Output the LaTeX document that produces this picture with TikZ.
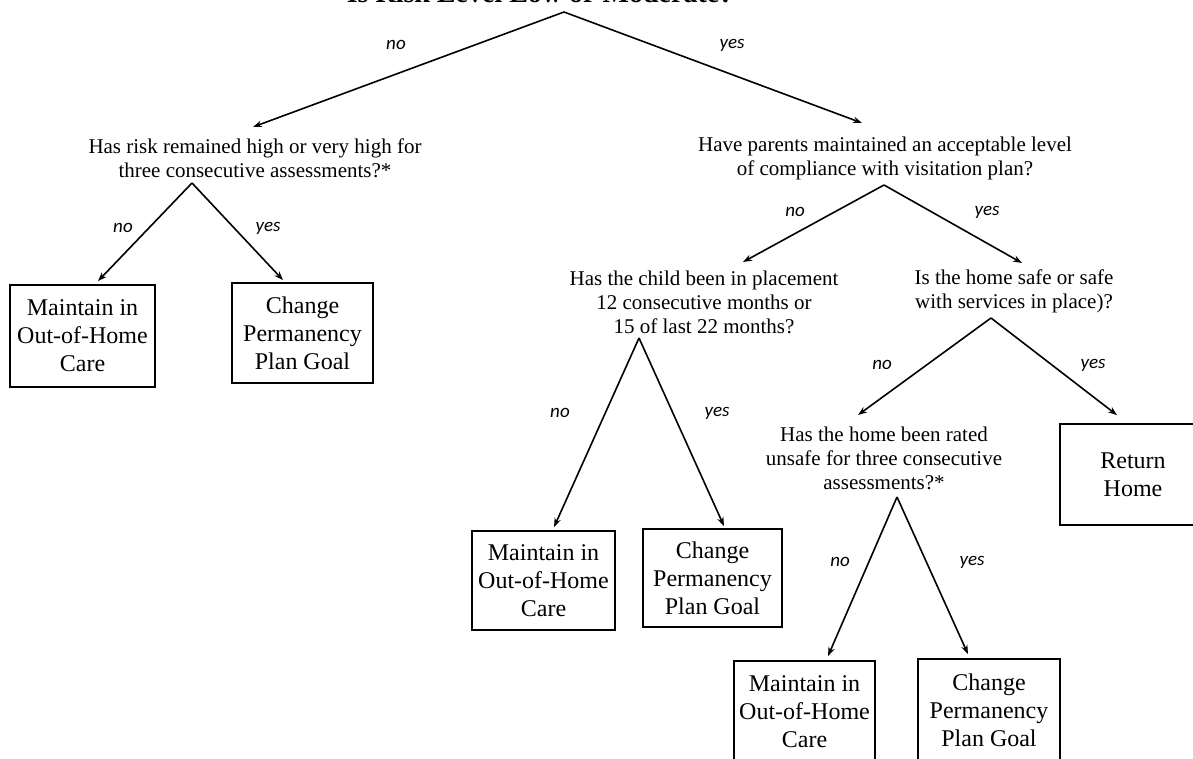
\documentclass[tikz,border=0pt]{standalone}
\usepackage{fontspec}
\setmainfont{Liberation Serif}
\newfontfamily\lblfont{Carlito}
\usetikzlibrary{arrows.meta}
\begin{document}
\begin{tikzpicture}[x=1pt,y=-1pt,
  qtext/.style={align=center,inner sep=0pt,font=\fontsize{21}{24}\selectfont},
  outbox/.style={draw,line width=1.8pt,align=center,inner sep=0pt,font=\fontsize{24}{28}\selectfont},
  lbl/.style={font=\lblfont\itshape\fontsize{19}{19}\selectfont,inner sep=0pt},
  arr/.style={line width=1.6pt,-{Stealth[length=9pt,width=6.5pt]}}]
\useasboundingbox (0,0) rectangle (1193,759);
\clip (0,0) rectangle (1193,759);

% title (cut off at top)
\node[anchor=base,inner sep=0pt,font=\bfseries\fontsize{28}{30}\selectfont] (title) at (540,3) {Is Risk Level Low or Moderate?};

% questions
\node[qtext] (q1) at (255,158) {Has risk remained high or very high for\\three consecutive assessments?*};
\node[qtext] (q2) at (885,158) {Have parents maintained an acceptable level\\of compliance with visitation plan?};
\node[qtext] (q3) at (704,302) {Has the child been in placement\\12 consecutive months or\\15 of last 22 months?};
\node[qtext] (q4) at (1014,291) {Is the home safe or safe\\with services in place)?};
\node[qtext] (q5) at (884,458) {Has the home been rated\\unsafe for three consecutive\\assessments?*};

% outcome boxes
\node[outbox,minimum width=145pt,minimum height=102pt] (m1) at (82.5,336) {Maintain in\\Out-of-Home\\Care};
\node[outbox,minimum width=141pt,minimum height=100pt] (c1) at (302.5,333) {Change\\Permanency\\Plan Goal};
\node[outbox,minimum width=143pt,minimum height=99pt] (m2) at (543.5,580.5) {Maintain in\\Out-of-Home\\Care};
\node[outbox,minimum width=139pt,minimum height=98pt] (c2) at (712.5,578) {Change\\Permanency\\Plan Goal};
\node[outbox,minimum width=146pt,minimum height=101pt] (rh) at (1133,474.5) {Return\\Home};
\node[outbox,minimum width=141pt,minimum height=102pt] (m3) at (804.5,712) {Maintain in\\Out-of-Home\\Care};
\node[outbox,minimum width=142pt,minimum height=102pt] (c3) at (989,710) {Change\\Permanency\\Plan Goal};

% branch points and tips
\coordinate (a0) at (564,12);
\coordinate (a1) at (192,183);
\coordinate (a2) at (884,185);
\coordinate (a3) at (639,338);
\coordinate (a4) at (991,318);
\coordinate (a5) at (897,497);
\coordinate (q1t) at (253,127);
\coordinate (q2t) at (862,123);
\coordinate (q3t) at (743,262);
\coordinate (q4t) at (1022,263);
\coordinate (q5t) at (858,415);

% connectors
\draw[arr] (a0) -- (q1t);
\draw[arr] (a0) -- (q2t);
\draw[arr] (a1) -- ([xshift=15.5pt,yshift=3pt]m1.north);
\draw[arr] (a1) -- ([xshift=-19.5pt,yshift=2pt]c1.north);
\draw[arr] (a2) -- (q3t);
\draw[arr] (a2) -- (q4t);
\draw[arr] (a3) -- ([xshift=10.5pt,yshift=3pt]m2.north);
\draw[arr] (a3) -- ([xshift=11.5pt,yshift=2pt]c2.north);
\draw[arr] (a4) -- (q5t);
\draw[arr] (a4) -- ([xshift=-16pt,yshift=8pt]rh.north);
\draw[arr] (a5) -- ([xshift=23.5pt,yshift=4pt]m3.north);
\draw[arr] (a5) -- ([xshift=-21pt,yshift=4pt]c3.north);

% labels
\node[lbl] (l0n) at (396,45) {no};
\node[lbl] (l0y) at (732,45) {yes};
\node[lbl] (l1n) at (123,228) {no};
\node[lbl] (l1y) at (268,228) {yes};
\node[lbl] (l2n) at (795,212) {no};
\node[lbl] (l2y) at (987,212) {yes};
\node[lbl] (l3n) at (560,413) {no};
\node[lbl] (l3y) at (717,413) {yes};
\node[lbl] (l4n) at (882,365) {no};
\node[lbl] (l4y) at (1093,365) {yes};
\node[lbl] (l5n) at (840,562) {no};
\node[lbl] (l5y) at (972,562) {yes};
\end{tikzpicture}
\end{document}
